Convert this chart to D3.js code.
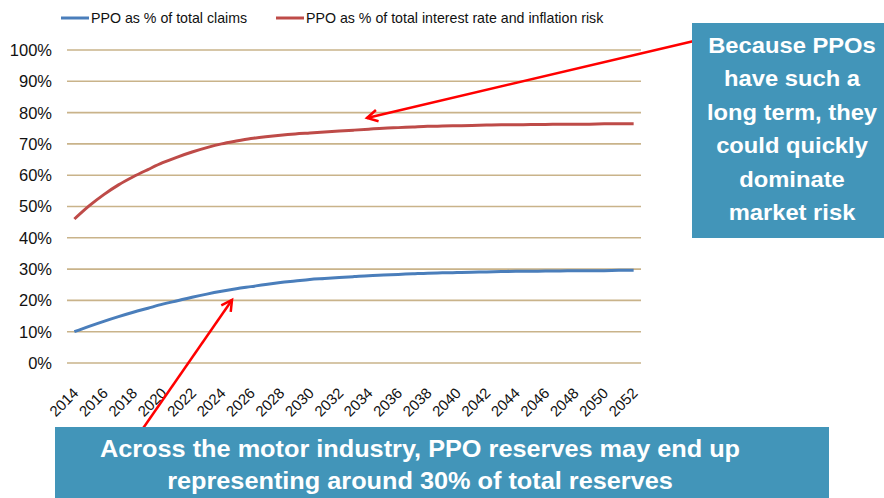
<!DOCTYPE html>
<html>
<head>
<meta charset="utf-8">
<script src="https://cdn.jsdelivr.net/npm/d3@7"></script>
<style>
  body { margin: 0; background: #fff; }
  svg { display: block; font-family: "Liberation Sans", Arial, sans-serif; }
</style>
</head>
<body>
<svg id="chart"></svg>
<script>
// data
const years = d3.range(2014, 2053);
const claimsShare = [10.0, 11.7, 13.3, 14.8, 16.2, 17.5, 18.8, 19.9, 21.0, 22.0,
  22.9, 23.7, 24.4, 25.1, 25.7, 26.2, 26.7, 27.0, 27.3, 27.6,
  27.9, 28.1, 28.3, 28.5, 28.7, 28.8, 28.9, 29.0, 29.1, 29.2,
  29.3, 29.3, 29.4, 29.4, 29.5, 29.5, 29.5, 29.6, 29.6];
const riskShare = [46.0, 50.2, 53.8, 56.9, 59.5, 61.8, 64.0, 65.8, 67.4, 68.8,
  70.0, 70.9, 71.7, 72.3, 72.8, 73.2, 73.5, 73.8, 74.1, 74.4,
  74.7, 75.0, 75.2, 75.4, 75.6, 75.7, 75.8, 75.9, 76.0, 76.1,
  76.1, 76.2, 76.2, 76.3, 76.3, 76.3, 76.4, 76.4, 76.4];
const yTicks = [0, 10, 20, 30, 40, 50, 60, 70, 80, 90, 100];
const xLabels = years.filter(y => (y - 2014) % 2 === 0);
const seriesNames = ["PPO as % of total claims", "PPO as % of total interest rate and inflation risk"];
const seriesColors = ["#4a7ebb", "#be4b48"];
const sideNote = ["Because PPOs", "have such a", "long term, they", "could quickly", "dominate", "market risk"];
const bottomNote = ["Across the motor industry, PPO reserves may end up", "representing around 30% of total reserves"];

const width = 884, height = 498;
const plotLeft = 67, plotRight = 641, plotTop = 50, plotBottom = 363;

const svg = d3.select("#chart")
  .attr("width", width)
  .attr("height", height)
  .attr("viewBox", [0, 0, width, height]);

const x = d3.scaleBand().domain(years).range([plotLeft, plotRight]);
const y = d3.scaleLinear().domain([0, 100]).range([plotBottom, plotTop]);
const xc = d => x(d) + x.bandwidth() / 2;

// gridlines
svg.append("g")
  .selectAll("line")
  .data(yTicks)
  .join("line")
  .attr("x1", plotLeft)
  .attr("x2", plotRight)
  .attr("y1", d => y(d))
  .attr("y2", d => y(d))
  .attr("stroke", "#c9b38a")
  .attr("stroke-width", 1.6);

// y labels
svg.append("g")
  .selectAll("text")
  .data(yTicks)
  .join("text")
  .attr("x", 52)
  .attr("y", d => y(d))
  .attr("dy", "0.36em")
  .attr("text-anchor", "end")
  .attr("font-size", 16.5)
  .attr("fill", "#111")
  .text(d => d + "%");

// x labels, rotated
svg.append("g")
  .selectAll("text")
  .data(xLabels)
  .join("text")
  .attr("transform", d => `translate(${xc(d) + 5},${plotBottom + 31}) rotate(-45)`)
  .attr("text-anchor", "end")
  .attr("font-size", 15)
  .attr("fill", "#111")
  .text(d => d);

// lines
const line = d3.line()
  .x((d, i) => xc(years[i]))
  .y(d => y(d))
  .curve(d3.curveMonotoneX);

[claimsShare, riskShare].forEach((vals, i) => {
  svg.append("path")
    .datum(vals)
    .attr("d", line)
    .attr("fill", "none")
    .attr("stroke", seriesColors[i])
    .attr("stroke-width", 3);
});

// legend
const legendX = [61, 276];
seriesNames.forEach((name, i) => {
  const g = svg.append("g").attr("transform", `translate(${legendX[i]},18)`);
  g.append("line").attr("x1", 0).attr("x2", 28)
    .attr("stroke", seriesColors[i]).attr("stroke-width", 3);
  g.append("text").attr("x", 30).attr("dy", "0.36em")
    .attr("font-size", 14.2).attr("fill", "#111").text(name);
});

// annotation arrows
const arrowRed = "#ff0000";
function arrow(x1, y1, x2, y2) {
  svg.append("line")
    .attr("x1", x1).attr("y1", y1).attr("x2", x2).attr("y2", y2)
    .attr("stroke", arrowRed).attr("stroke-width", 2.5);
  const ang = Math.atan2(y1 - y2, x1 - x2);
  const len = 12, spread = 0.5;
  const p1 = [x2 + len * Math.cos(ang + spread), y2 + len * Math.sin(ang + spread)];
  const p2 = [x2 + len * Math.cos(ang - spread), y2 + len * Math.sin(ang - spread)];
  svg.append("path")
    .attr("d", `M${p1}L${x2},${y2}L${p2}`)
    .attr("fill", "none").attr("stroke", arrowRed)
    .attr("stroke-width", 2.5).attr("stroke-linejoin", "miter");
}
arrow(694, 41, 367, 118);
arrow(128, 450, 232, 300);

// note boxes (text in the slide is a little stretched sideways)
const boxFill = "#4295b9";
function note(lines, cx, y0, step, size, sx) {
  svg.append("g")
    .selectAll("text")
    .data(lines)
    .join("text")
    .attr("transform", (d, i) => `translate(${cx},${y0 + i * step}) scale(${sx},1)`)
    .attr("text-anchor", "middle")
    .attr("font-size", size)
    .attr("font-weight", "bold")
    .attr("fill", "#fff")
    .text(d => d);
}

svg.append("rect").attr("x", 692).attr("y", 23).attr("width", 192).attr("height", 215).attr("fill", boxFill);
note(sideNote, 792, 53, 33.4, 22, 1.08);

svg.append("rect").attr("x", 55).attr("y", 427).attr("width", 774).attr("height", 71).attr("fill", boxFill);
note(bottomNote, 420, 457, 32, 23, 1.1);
</script>
</body>
</html>
